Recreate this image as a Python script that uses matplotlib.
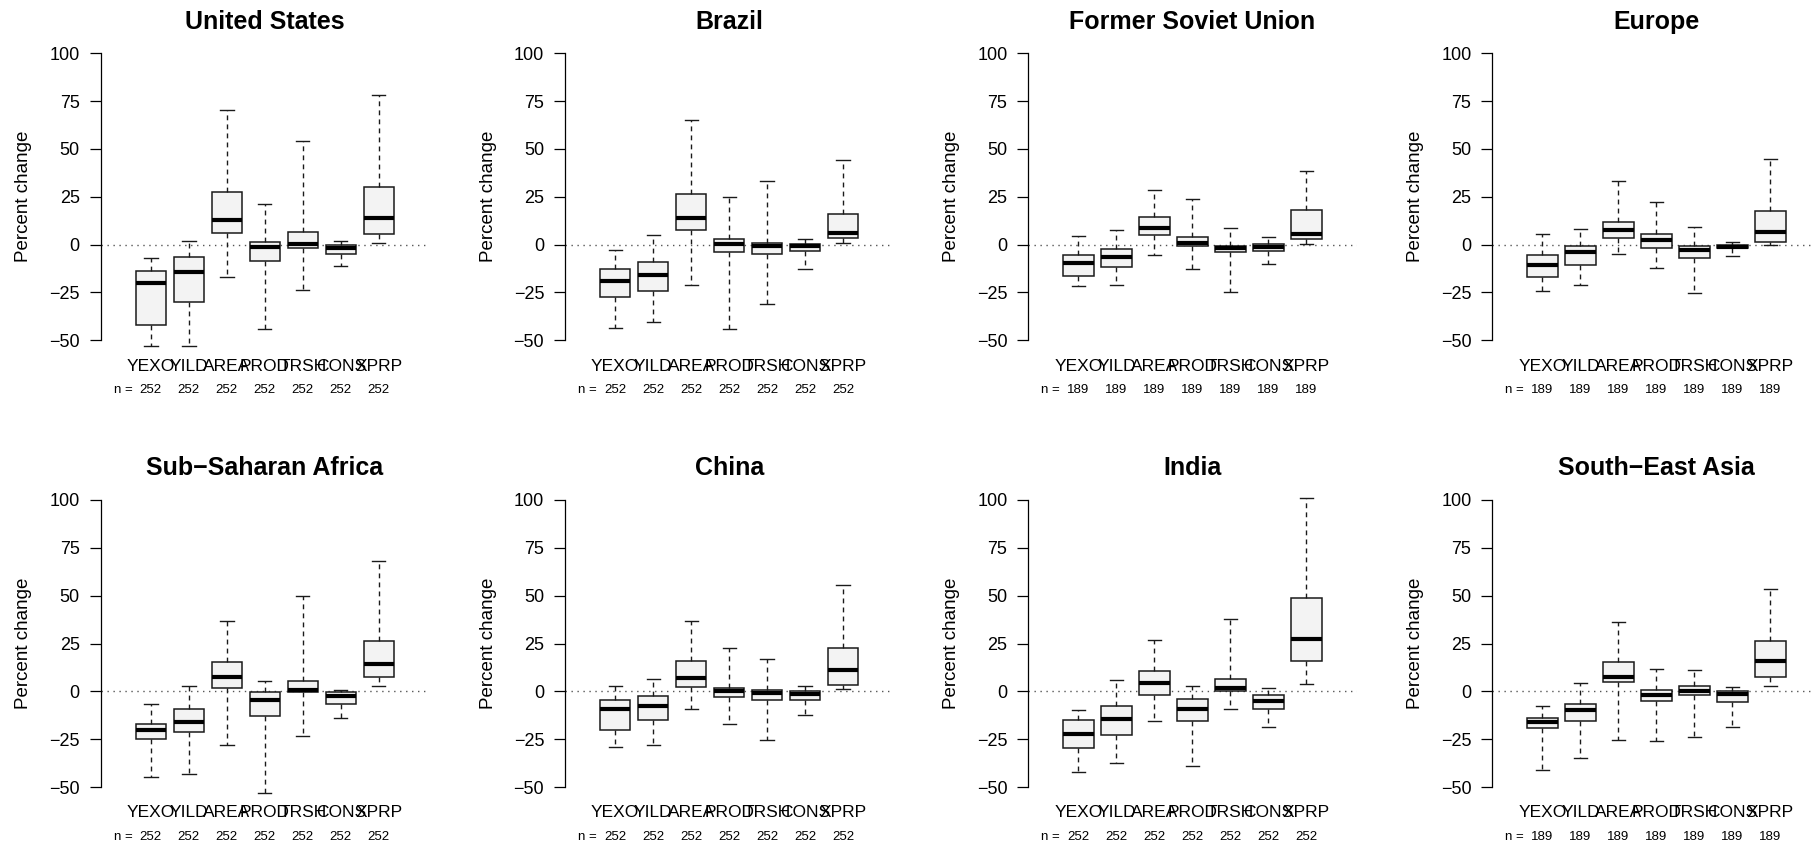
import numpy as np
import matplotlib
matplotlib.use("Agg")
import matplotlib.pyplot as plt

plt.rcParams['font.family'] = ['Liberation Sans', 'DejaVu Sans']

variables = ['YEXO', 'YILD', 'AREA', 'PROD', 'TRSH', 'CONS', 'XPRP']

# each row: lower whisker, q1, median, q3, upper whisker (percent change)
united_states = np.array([
    [-53.1, -42.0, -20.1, -14.0, -7.2],
    [-53.1, -30.0, -14.5, -6.7, 1.9],
    [-17.1, 6.0, 13.0, 27.6, 70.4],
    [-44.1, -8.6, -1.2, 1.4, 21.4],
    [-23.5, -1.5, 0.5, 6.6, 54.2],
    [-11.2, -4.7, -1.6, 0.0, 2.0],
    [1.0, 5.5, 13.7, 30.2, 78.3],
])
brazil = np.array([
    [-43.7, -27.4, -19.2, -12.6, -2.8],
    [-40.6, -24.4, -15.9, -9.3, 5.0],
    [-21.0, 7.5, 14.1, 26.6, 64.9],
    [-44.1, -3.7, 0.3, 3.0, 25.0],
    [-30.8, -4.7, -0.7, 0.7, 33.0],
    [-12.6, -3.5, -0.7, 0.3, 3.1],
    [0.7, 3.3, 6.0, 15.8, 44.3],
])
former_soviet_union = np.array([
    [-21.8, -16.4, -9.6, -5.2, 4.3],
    [-21.3, -11.7, -6.6, -2.4, 7.4],
    [-5.5, 4.9, 8.5, 14.3, 28.3],
    [-12.8, -0.5, 1.0, 4.0, 23.8],
    [-24.6, -4.1, -1.6, -0.5, 8.8],
    [-10.1, -3.3, -1.0, 0.3, 3.8],
    [0.3, 2.8, 5.5, 18.2, 38.6],
])
europe = np.array([
    [-24.2, -16.8, -10.5, -5.6, 5.7],
    [-21.3, -10.6, -3.8, -0.5, 8.0],
    [-4.7, 3.3, 7.4, 11.8, 33.0],
    [-12.1, -1.6, 2.6, 5.5, 22.4],
    [-25.5, -6.9, -2.9, -0.5, 9.1],
    [-5.8, -1.7, -1.0, 0.0, 1.4],
    [0.0, 1.6, 6.4, 17.7, 45.0],
])
sub_saharan_africa = np.array([
    [-44.9, -24.9, -20.3, -17.2, -6.4],
    [-43.0, -21.2, -16.0, -9.2, 3.0],
    [-27.8, 1.5, 7.7, 15.2, 36.7],
    [-53.1, -12.7, -4.3, -0.6, 5.5],
    [-23.5, -0.6, 0.6, 5.5, 49.9],
    [-14.1, -6.4, -2.2, -0.6, 0.9],
    [3.0, 7.4, 14.4, 26.2, 68.3],
])
china = np.array([
    [-28.9, -20.3, -9.3, -4.3, 3.0],
    [-27.8, -15.1, -7.6, -2.2, 6.7],
    [-9.2, 2.2, 7.2, 15.6, 36.5],
    [-17.2, -3.2, 0.0, 1.8, 22.4],
    [-25.6, -4.6, -0.9, 0.5, 16.8],
    [-12.3, -4.3, -1.2, 0.2, 3.0],
    [1.3, 3.4, 11.1, 22.7, 55.7],
])
india = np.array([
    [-42.1, -29.4, -22.1, -14.8, -9.5],
    [-37.4, -22.6, -14.4, -7.6, 5.8],
    [-15.3, -2.0, 4.3, 10.7, 26.6],
    [-39.0, -15.6, -9.2, -4.1, 2.7],
    [-9.0, 0.2, 1.8, 6.2, 37.6],
    [-18.6, -9.0, -5.2, -1.7, 2.0],
    [3.7, 15.8, 27.4, 48.7, 101.0],
])
south_east_asia = np.array([
    [-41.3, -19.3, -16.0, -13.7, -7.4],
    [-35.0, -15.3, -9.9, -6.6, 4.3],
    [-25.2, 4.8, 7.7, 15.1, 36.2],
    [-25.9, -5.0, -1.7, 0.9, 11.9],
    [-23.8, -1.7, 0.2, 2.9, 11.1],
    [-18.8, -5.7, -1.6, 0.0, 2.2],
    [2.9, 7.7, 15.9, 26.4, 53.4],
])

regions = ['United States', 'Brazil', 'Former Soviet Union', 'Europe',
           'Sub\u2212Saharan Africa', 'China', 'India', 'South\u2212East Asia']
region_data = [united_states, brazil, former_soviet_union, europe,
               sub_saharan_africa, china, india, south_east_asia]
n_runs = [252, 252, 189, 189, 252, 252, 252, 189]

W, H = 1814, 842
fig = plt.figure(figsize=(W / 100, H / 100), dpi=100)

col_left = [100.7, 565.0, 1028.3, 1492.3]
row_top = [41.8, 488.5]
ax_w, ax_h = 328.3, 310.0
positions = np.arange(1, len(variables) + 1)

for k, (name, data) in enumerate(zip(regions, region_data)):
    r, c = divmod(k, 4)
    ax = fig.add_axes([col_left[c] / W, 1 - (row_top[r] + ax_h) / H, ax_w / W, ax_h / H])
    ax.set_xlim(-0.32, 8.32)
    ax.set_ylim(-56, 106)

    stats = []
    for v, row in zip(variables, data):
        stats.append(dict(label=v, whislo=row[0], q1=row[1], med=row[2],
                          q3=row[3], whishi=row[4], fliers=[]))

    ax.axhline(0, color='#555555', lw=1.0, linestyle=(0, (1, 3.3)), zorder=1)
    ax.bxp(stats, positions=positions, widths=0.8, capwidths=0.35,
           patch_artist=True, showfliers=False,
           boxprops=dict(facecolor='#f3f3f3', edgecolor='#1a1a1a', linewidth=1.1),
           medianprops=dict(color='black', linewidth=3.0, solid_capstyle='butt'),
           whiskerprops=dict(color='#1a1a1a', linewidth=1.0, linestyle=(0, (3.5, 3))),
           capprops=dict(color='#1a1a1a', linewidth=1.0))

    for s in ['top', 'right', 'bottom']:
        ax.spines[s].set_visible(False)
    ax.spines['left'].set_bounds(-50, 100)
    ax.spines['left'].set_linewidth(0.9)
    ax.set_yticks([-50, -25, 0, 25, 50, 75, 100])
    ax.tick_params(axis='y', length=8, width=0.9, pad=7, labelsize=13)
    ax.set_xticks(positions)
    ax.set_xticklabels(variables)
    ax.tick_params(axis='x', length=0, pad=5, labelsize=12.5)

    ax.text((24 - col_left[0]) / ax_w, 0.5, 'Percent change', transform=ax.transAxes,
            rotation=90, ha='center', va='center', fontsize=13.5)
    ax.set_title(name, fontsize=18, fontweight='bold', pad=9.5)

    ax.annotate('n =', xy=(0.27, 0), xycoords=('data', 'axes fraction'),
                xytext=(0, -41.5 * 0.72), textcoords='offset points',
                ha='center', va='baseline', fontsize=9.5)
    for p in positions:
        ax.annotate(str(n_runs[k]), xy=(p, 0), xycoords=('data', 'axes fraction'),
                    xytext=(0, -41.5 * 0.72), textcoords='offset points',
                    ha='center', va='baseline', fontsize=9.5)

fig.savefig('out.png', dpi=100)
